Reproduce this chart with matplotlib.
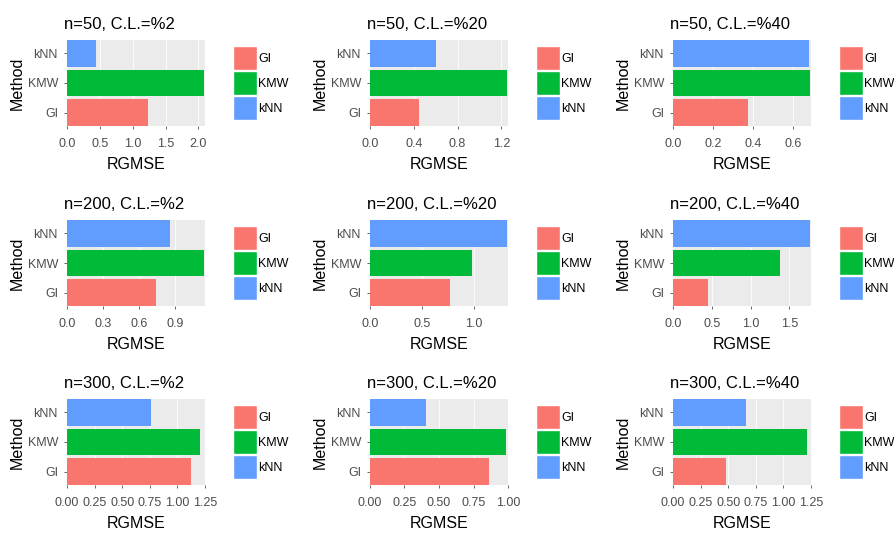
import matplotlib.pyplot as plt
from matplotlib.patches import Patch

plt.rcParams['font.family'] = ['Liberation Sans', 'DejaVu Sans']

# Methods (bottom to top) and their fill colours
methods = ['GI', 'KMW', 'kNN']
colors = ['#F8766D', '#00BA38', '#619CFF']

sample_sizes = [50, 200, 300]
censoring = [2, 20, 40]

# RGMSE for GI, KMW, kNN in each (n, C.L.) case
rgmse = {
    (50, 2): [1.24, 2.08, 0.44],
    (50, 20): [0.445, 1.25, 0.60],
    (50, 40): [0.375, 0.685, 0.68],
    (200, 2): [0.745, 1.14, 0.856],
    (200, 20): [0.77, 0.987, 1.324],
    (200, 40): [0.45, 1.384, 1.77],
    (300, 2): [1.124, 1.208, 0.762],
    (300, 20): [0.861, 0.985, 0.407],
    (300, 40): [0.484, 1.21, 0.66],
}

# tick step and upper x limit for each panel
tick_step = {
    (50, 2): 0.5, (50, 20): 0.4, (50, 40): 0.2,
    (200, 2): 0.3, (200, 20): 0.5, (200, 40): 0.5,
    (300, 2): 0.25, (300, 20): 0.25, (300, 40): 0.25,
}
x_upper = {
    (50, 2): 2.10, (50, 20): 1.26, (50, 40): 0.69,
    (200, 2): 1.15, (200, 20): 1.33, (200, 40): 1.78,
    (300, 2): 1.25, (300, 20): 1.00, (300, 40): 1.25,
}

W, H = 895, 537
fig = plt.figure(figsize=(W / 100, H / 100), dpi=100)

col_left = [67, 370, 673]
row_top = [40, 220, 399]
pw, ph = 138, 86

for r, n in enumerate(sample_sizes):
    for c, cl in enumerate(censoring):
        key = (n, cl)
        ax = fig.add_axes([col_left[c] / W, 1 - (row_top[r] + ph) / H, pw / W, ph / H])
        vals = rgmse[key]
        ax.set_facecolor('#EBEBEB')
        ax.barh(range(3), vals, height=0.9, color=colors, zorder=2)
        xmax = x_upper[key]
        ax.set_xlim(0, xmax)
        ax.set_ylim(-0.45, 2.45)
        step = tick_step[key]
        ticks = []
        t = 0.0
        while t <= xmax + 1e-9:
            ticks.append(round(t, 2))
            t += step
        ax.set_xticks(ticks)
        dec = 2 if step == 0.25 else 1
        ax.set_xticklabels([f'{v:.{dec}f}' for v in ticks])
        ax.set_yticks(range(3))
        ax.set_yticklabels(methods)
        ax.grid(axis='x', color='white', lw=0.6, zorder=1)
        for s in ax.spines.values():
            s.set_visible(False)
        ax.tick_params(colors='#4D4D4D', labelsize=9, length=2.5, width=0.6, pad=4)
        ax.tick_params(axis='x', pad=6)
        ax.set_xlabel('RGMSE', fontsize=11.5, labelpad=5)
        ax.set_ylabel('Method', fontsize=11.5, labelpad=2)
        ax.set_title(f'n={n}, C.L.=%{cl}', loc='left', fontsize=12, pad=8, x=-0.02)
        handles = [Patch(facecolor=col, edgecolor='white', lw=1.0) for col in colors]
        ax.legend(handles, methods, loc='center left', bbox_to_anchor=(1.2, 0.5),
                  frameon=False, fontsize=9, handlelength=1.95, handleheight=2.6,
                  labelspacing=0.05, handletextpad=0.1, borderpad=0, borderaxespad=0)

fig.savefig('out.png', dpi=100, facecolor='white')
